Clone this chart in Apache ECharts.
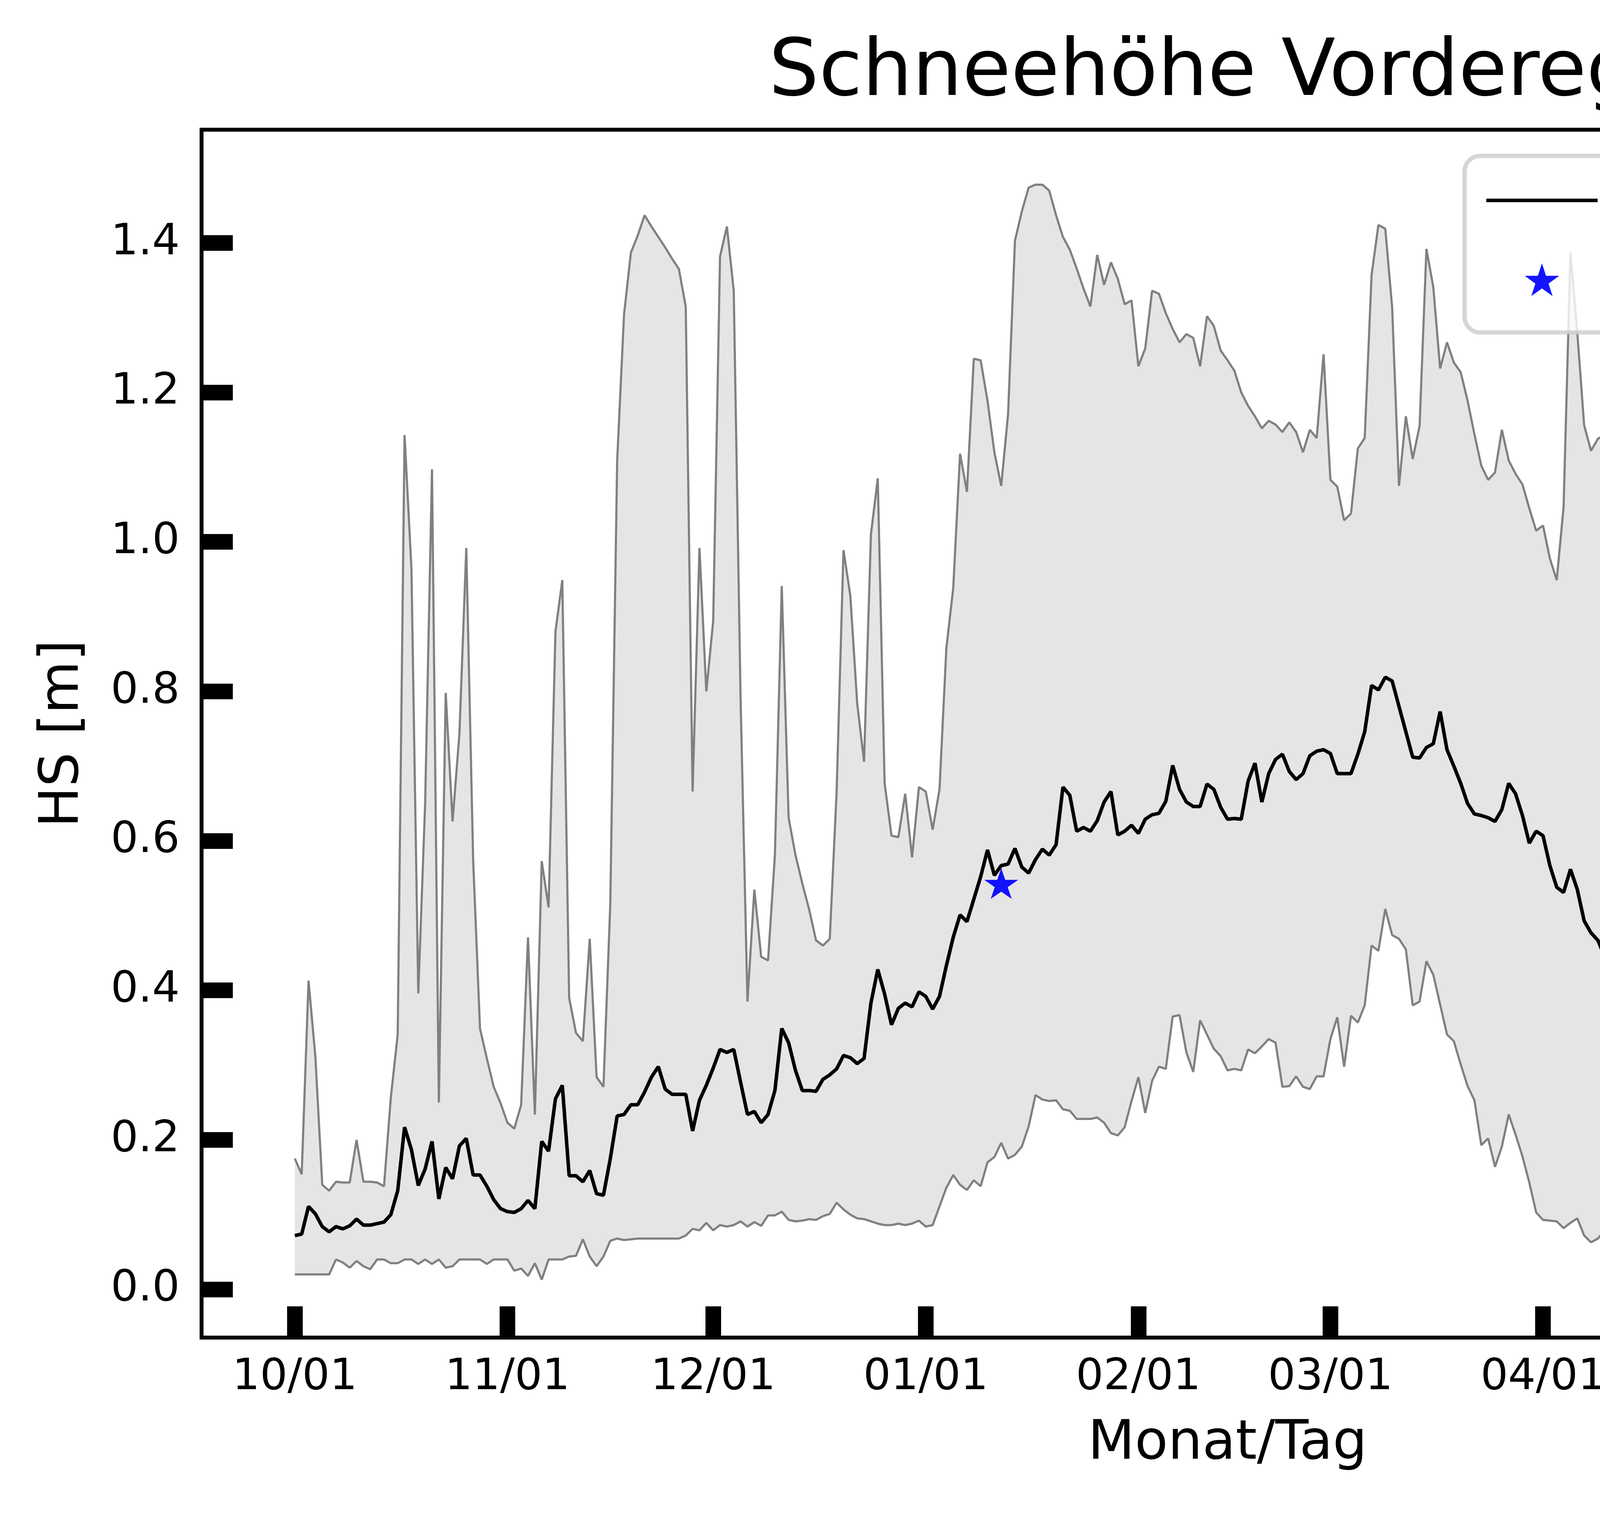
<!DOCTYPE html>
<html lang="de">
<head>
  <meta charset="UTF-8">
  <title>Schneehöhe Vorderegg</title>
  <style>
    html, body { margin: 0; padding: 0; background: #fff; }
    #chart { width: 5871px; height: 3873px; }
  </style>
</head>
<body>
  <div id="chart"></div>

  <script src="https://cdn.jsdelivr.net/npm/echarts@6/dist/echarts.min.js"></script>
  <script>
    // Days since 10/01 (index = day), values in m
    const minVals = [
      0.020, 0.020, 0.020, 0.020, 0.020, 0.020, 0.040, 0.036, 0.029, 0.038,
      0.031, 0.027, 0.040, 0.040, 0.035, 0.035, 0.040, 0.040, 0.034, 0.040,
      0.034, 0.040, 0.029, 0.031, 0.040, 0.040, 0.040, 0.040, 0.034, 0.040,
      0.040, 0.040, 0.025, 0.028, 0.018, 0.035, 0.013, 0.040, 0.040, 0.040,
      0.044, 0.045, 0.067, 0.044, 0.031, 0.044, 0.065, 0.068, 0.066, 0.067,
      0.068, 0.068, 0.068, 0.068, 0.068, 0.068, 0.068, 0.072, 0.081, 0.079,
      0.089, 0.079, 0.086, 0.084, 0.086, 0.091, 0.084, 0.090, 0.085, 0.099,
      0.099, 0.104, 0.093, 0.091, 0.092, 0.094, 0.093, 0.098, 0.101, 0.116,
      0.107, 0.100, 0.095, 0.094, 0.091, 0.088, 0.086, 0.086, 0.088, 0.086,
      0.088, 0.092, 0.084, 0.086, 0.111, 0.136, 0.153, 0.140, 0.133, 0.146,
      0.138, 0.170, 0.177, 0.196, 0.175, 0.180, 0.191, 0.218, 0.260, 0.254,
      0.252, 0.253, 0.241, 0.239, 0.228, 0.228, 0.228, 0.230, 0.223, 0.209,
      0.206, 0.217, 0.252, 0.284, 0.236, 0.279, 0.298, 0.295, 0.365, 0.367,
      0.317, 0.291, 0.360, 0.341, 0.322, 0.312, 0.293, 0.295, 0.293, 0.321,
      0.316, 0.325, 0.335, 0.330, 0.271, 0.272, 0.285, 0.271, 0.268, 0.285,
      0.285, 0.335, 0.364, 0.298, 0.366, 0.357, 0.380, 0.460, 0.453, 0.509,
      0.474, 0.469, 0.455, 0.380, 0.385, 0.439, 0.421, 0.381, 0.341, 0.332,
      0.301, 0.272, 0.253, 0.193, 0.202, 0.164, 0.191, 0.234, 0.207, 0.178,
      0.143, 0.103, 0.093, 0.092, 0.091, 0.082, 0.089, 0.095, 0.072, 0.063,
      0.068, 0.079, 0.072, 0.079, 0.061, 0.076, 0.093, 0.081, 0.079, 0.079,
      0.089, 0.074, 0.060, 0.027, 0.036, 0.016, 0.016, 0.020, 0.012, 0.015,
      0.017, 0.076, 0.034, 0.061, 0.079, 0.065, 0.045, 0.050, 0.053, 0.057,
      0.025, 0.042, 0.013, 0.026, 0.049, 0.044, 0.019, 0.025, 0.029, 0.042,
      0.036, 0.031, 0.040, 0.037, 0.034, 0.033, 0.047, 0.036, 0.034, 0.040,
      0.028, 0.040, 0.034, 0.022, 0.044, 0.048, 0.051, 0.047, 0.038, 0.020,
      0.026, 0.044, 0.029, 0.034, 0.038, 0.045, 0.052, 0.020, 0.034, 0.034,
      0.029, 0.026, 0.047, 0.068, 0.047, 0.026, 0.035, 0.026, 0.017, 0.009,
      0.028, 0.023, 0.092
    ];

    const meanVals = [
      0.072, 0.074, 0.111, 0.101, 0.084, 0.077, 0.084, 0.081, 0.085, 0.094,
      0.086, 0.086, 0.088, 0.090, 0.100, 0.132, 0.217, 0.187, 0.139, 0.161,
      0.198, 0.121, 0.163, 0.148, 0.192, 0.202, 0.153, 0.153, 0.138, 0.120,
      0.108, 0.104, 0.103, 0.108, 0.119, 0.108, 0.198, 0.185, 0.255, 0.273,
      0.152, 0.152, 0.144, 0.159, 0.128, 0.126, 0.175, 0.232, 0.234, 0.247,
      0.247, 0.264, 0.284, 0.298, 0.268, 0.261, 0.261, 0.261, 0.212, 0.253,
      0.273, 0.296, 0.321, 0.317, 0.321, 0.277, 0.234, 0.238, 0.223, 0.234,
      0.266, 0.349, 0.330, 0.293, 0.266, 0.266, 0.265, 0.281, 0.287, 0.295,
      0.313, 0.310, 0.302, 0.309, 0.383, 0.428, 0.395, 0.354, 0.376, 0.383,
      0.378, 0.398, 0.392, 0.375, 0.392, 0.433, 0.471, 0.501, 0.492, 0.522,
      0.552, 0.588, 0.554, 0.567, 0.569, 0.590, 0.565, 0.557, 0.575, 0.589,
      0.581, 0.595, 0.672, 0.661, 0.613, 0.618, 0.613, 0.627, 0.652, 0.666,
      0.608, 0.613, 0.621, 0.610, 0.629, 0.635, 0.637, 0.653, 0.701, 0.669,
      0.652, 0.646, 0.646, 0.676, 0.669, 0.645, 0.629, 0.630, 0.629, 0.680,
      0.704, 0.652, 0.690, 0.709, 0.716, 0.693, 0.682, 0.690, 0.714, 0.720,
      0.722, 0.717, 0.690, 0.690, 0.690, 0.716, 0.746, 0.808, 0.802, 0.819,
      0.814, 0.780, 0.746, 0.712, 0.711, 0.725, 0.730, 0.773, 0.722, 0.700,
      0.677, 0.650, 0.636, 0.634, 0.631, 0.626, 0.642, 0.677, 0.663, 0.634,
      0.597, 0.613, 0.607, 0.567, 0.538, 0.531, 0.562, 0.535, 0.493, 0.477,
      0.467, 0.445, 0.448, 0.437, 0.433, 0.469, 0.405, 0.394, 0.391, 0.387,
      0.381, 0.364, 0.328, 0.300, 0.287, 0.264, 0.242, 0.218, 0.207, 0.212,
      0.196, 0.204, 0.175, 0.178, 0.183, 0.142, 0.141, 0.127, 0.127, 0.127,
      0.125, 0.120, 0.120, 0.126, 0.128, 0.138, 0.143, 0.136, 0.130, 0.124,
      0.116, 0.127, 0.144, 0.132, 0.125, 0.124, 0.100, 0.092, 0.091, 0.109,
      0.086, 0.086, 0.084, 0.097, 0.138, 0.180, 0.200, 0.151, 0.086, 0.083,
      0.086, 0.090, 0.091, 0.098, 0.097, 0.097, 0.122, 0.207, 0.226, 0.172,
      0.185, 0.168, 0.104, 0.127, 0.129, 0.123, 0.110, 0.098, 0.104, 0.095,
      0.100, 0.111, 0.140
    ];

    const maxVals = [
      0.175, 0.154, 0.413, 0.311, 0.140, 0.132, 0.144, 0.143, 0.143, 0.200,
      0.144, 0.144, 0.143, 0.138, 0.257, 0.341, 1.143, 0.965, 0.396, 0.650,
      1.097, 0.250, 0.798, 0.626, 0.744, 0.992, 0.575, 0.349, 0.309, 0.271,
      0.249, 0.223, 0.215, 0.247, 0.471, 0.234, 0.573, 0.511, 0.880, 0.949,
      0.390, 0.343, 0.332, 0.469, 0.284, 0.271, 0.517, 1.109, 1.304, 1.387,
      1.410, 1.437, 1.422, 1.408, 1.394, 1.379, 1.365, 1.315, 0.666, 0.992,
      0.800, 0.894, 1.382, 1.422, 1.336, 0.789, 0.385, 0.535, 0.445, 0.440,
      0.581, 0.941, 0.631, 0.581, 0.543, 0.508, 0.467, 0.460, 0.469, 0.666,
      0.989, 0.928, 0.784, 0.706, 1.010, 1.085, 0.677, 0.607, 0.605, 0.663,
      0.578, 0.672, 0.666, 0.615, 0.669, 0.858, 0.938, 1.118, 1.067, 1.245,
      1.243, 1.189, 1.120, 1.075, 1.171, 1.403, 1.442, 1.474, 1.478, 1.478,
      1.470, 1.437, 1.408, 1.391, 1.366, 1.339, 1.315, 1.384, 1.344, 1.374,
      1.352, 1.318, 1.323, 1.235, 1.259, 1.336, 1.332, 1.306, 1.285, 1.267,
      1.278, 1.273, 1.235, 1.302, 1.289, 1.256, 1.243, 1.229, 1.200, 1.182,
      1.168, 1.152, 1.162, 1.157, 1.147, 1.160, 1.147, 1.120, 1.150, 1.139,
      1.251, 1.083, 1.074, 1.029, 1.038, 1.125, 1.139, 1.357, 1.424, 1.419,
      1.314, 1.075, 1.168, 1.111, 1.155, 1.392, 1.341, 1.232, 1.267, 1.240,
      1.227, 1.189, 1.144, 1.102, 1.083, 1.093, 1.150, 1.109, 1.091, 1.077,
      1.045, 1.015, 1.022, 0.978, 0.949, 1.047, 1.387, 1.280, 1.156, 1.122,
      1.138, 1.143, 1.152, 1.173, 1.150, 1.259, 1.200, 1.139, 1.122, 1.088,
      1.045, 1.005, 0.965, 0.922, 0.888, 0.842, 0.805, 0.714, 0.640, 0.746,
      0.762, 0.725, 0.691, 0.631, 0.615, 0.593, 0.626, 0.602, 0.581, 0.552,
      0.546, 0.501, 0.492, 0.613, 0.570, 0.586, 0.579, 0.559, 0.517, 0.474,
      0.435, 0.442, 0.519, 0.447, 0.351, 0.266, 0.180, 0.127, 0.122, 0.314,
      0.132, 0.131, 0.131, 0.223, 0.495, 0.971, 1.136, 0.650, 0.132, 0.148,
      0.140, 0.143, 0.148, 0.170, 0.152, 0.157, 0.362, 1.195, 1.384, 0.818,
      0.995, 0.832, 0.148, 0.348, 0.348, 0.332, 0.191, 0.164, 0.163, 0.164,
      0.177, 0.183, 0.220
    ];

    // avalanche fatality marker
    const starDays = [103];
    const starVals = [0.543];

    // axis ticks
    const tickDays = [0, 31, 61, 92, 123, 151, 182, 212, 243, 273];
    const tickLabels = ['10/01', '11/01', '12/01', '01/01', '02/01', '03/01', '04/01', '05/01', '06/01', '07/01'];
    const yTicks = [0, 0.2, 0.4, 0.6, 0.8, 1.0, 1.2, 1.4];

    const FONT = 'DejaVu Sans';

    // five-pointed star like the matplotlib '*' marker
    function starPath() {
      const R = 50, r = R * 0.381966;
      const pts = [];
      for (let i = 0; i < 10; i++) {
        const a = -Math.PI / 2 + i * Math.PI / 5;
        const rad = i % 2 === 0 ? R : r;
        pts.push((50 + rad * Math.cos(a)).toFixed(2) + ' ' + (50 + rad * Math.sin(a)).toFixed(2));
      }
      return 'path://M' + pts.join(' L') + ' Z';
    }
    const STAR = starPath();

    const minData = minVals.map((v, i) => [i, v]);
    const maxData = maxVals.map((v, i) => [i, v]);
    const meanData = meanVals.map((v, i) => [i, v]);
    const starData = starDays.map((d, i) => [d, starVals[i]]);

    // grey band between min and max, as one polygon through the axis scales
    function renderBand(params, api) {
      const pts = [];
      for (let i = 0; i < maxVals.length; i++) pts.push(api.coord([i, maxVals[i]]));
      for (let i = minVals.length - 1; i >= 0; i--) pts.push(api.coord([i, minVals[i]]));
      return { type: 'polygon', shape: { points: pts }, style: { fill: '#e5e5e5' } };
    }

    const chart = echarts.init(document.getElementById('chart'), null, { renderer: 'canvas' });
    chart.setOption({
      animation: false,
      backgroundColor: '#fff',
      title: {
        text: 'Schneehöhe Vorderegg',
        left: 3143,
        textAlign: 'center',
        top: 90,
        padding: 0,
        textStyle: { fontFamily: FONT, fontSize: 202, fontWeight: 'normal', color: '#000', lineHeight: 202 }
      },
      grid: {
        left: 516, right: 102, top: 332, bottom: 449,
        show: true,
        borderColor: '#000',
        borderWidth: 10,
        backgroundColor: 'transparent'
      },
      legend: {
        orient: 'vertical',
        right: 172,
        top: 399,
        padding: [44, 58, 65, 51],
        itemWidth: 285,
        itemHeight: 84,
        itemGap: 63,
        selectedMode: false,
        backgroundColor: 'rgba(255,255,255,0.8)',
        borderColor: 'rgba(204,204,204,0.8)',
        borderWidth: 11,
        borderRadius: 40,
        lineStyle: { width: 9 },
        textStyle: { fontFamily: FONT, fontSize: 139, lineHeight: 140, color: '#000', padding: [0, 0, 0, 112] },
        data: [
          { name: 'Mittlere Schneehöhe', itemStyle: { opacity: 0 } },
          { name: 'Lawinentote', icon: STAR }
        ]
      },
      xAxis: {
        type: 'value',
        min: -13.6,
        max: 285.6,
        name: 'Monat/Tag',
        nameLocation: 'middle',
        nameGap: 204,
        nameTextStyle: { fontFamily: FONT, fontSize: 139, lineHeight: 139, color: '#000' },
        splitLine: { show: false },
        axisLine: { onZero: false, lineStyle: { color: '#000', width: 10 } },
        axisTick: {
          inside: true, length: 80,
          customValues: tickDays,
          lineStyle: { color: '#000', width: 40 }
        },
        axisLabel: {
          customValues: tickDays,
          margin: 48,
          fontFamily: FONT, fontSize: 111, lineHeight: 111, color: '#000',
          formatter: v => { const k = tickDays.indexOf(v); return k >= 0 ? tickLabels[k] : ''; }
        }
      },
      yAxis: {
        type: 'value',
        min: -0.0645,
        max: 1.5515,
        name: 'HS [m]',
        nameLocation: 'middle',
        nameGap: 284,
        nameTextStyle: { fontFamily: FONT, fontSize: 139, lineHeight: 139, color: '#000' },
        splitLine: { show: false },
        axisLine: { onZero: false, lineStyle: { color: '#000', width: 10 } },
        axisTick: {
          inside: true, length: 80,
          customValues: yTicks,
          lineStyle: { color: '#000', width: 40 }
        },
        axisLabel: {
          customValues: yTicks,
          margin: 56,
          fontFamily: FONT, fontSize: 111, color: '#000',
          formatter: v => v.toFixed(1)
        }
      },
      series: [
        {
          name: 'Band',
          type: 'custom',
          data: [[0, 0]],
          encode: { x: 0, y: 1 },
          renderItem: renderBand,
          silent: true,
          z: 1
        },
        {
          name: 'Minimum',
          type: 'line',
          data: minData,
          symbol: 'none',
          lineStyle: { color: '#808080', width: 5.5 },
          z: 2
        },
        {
          name: 'Maximum',
          type: 'line',
          data: maxData,
          symbol: 'none',
          lineStyle: { color: '#808080', width: 5.5 },
          z: 2
        },
        {
          name: 'Mittlere Schneehöhe',
          type: 'line',
          data: meanData,
          symbol: 'none',
          itemStyle: { color: '#000' },
          lineStyle: { color: '#000', width: 9 },
          z: 3
        },
        {
          name: 'Lawinentote',
          type: 'scatter',
          data: starData,
          symbol: STAR,
          symbolSize: [87, 83],
          symbolKeepAspect: true,
          itemStyle: { color: '#0000ff', opacity: 0.92 },
          z: 4
        }
      ]
    });
  </script>
</body>
</html>
